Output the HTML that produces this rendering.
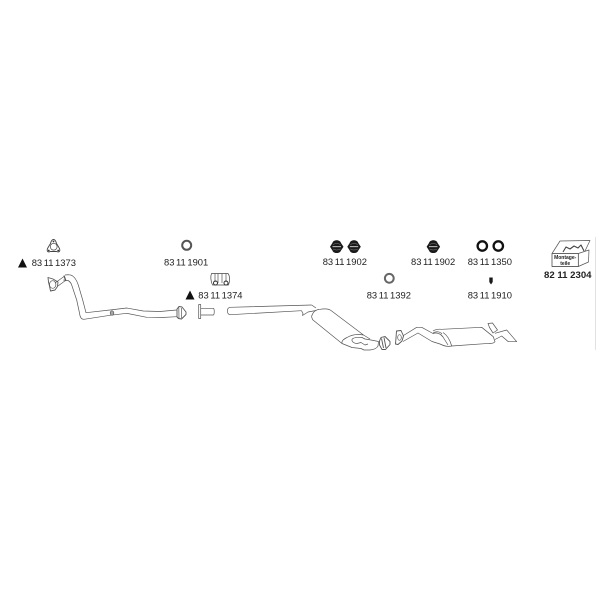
<!DOCTYPE html>
<html><head><meta charset="utf-8"><style>html,body{margin:0;padding:0;background:#fff}svg{display:block}text{font-family:"Liberation Sans",sans-serif;font-size:9.400px;word-spacing:-1px;fill:#222}</style></head><body>
<svg width="600" height="600" viewBox="0 0 600 600" xmlns="http://www.w3.org/2000/svg">
<rect width="600" height="600" fill="#fff"/>
<line x1="595.500" y1="237" x2="595.500" y2="350" stroke="#e2e2e2" stroke-width="1"/>
<g fill="#111"><path d="M18 267.500L22.500 258.500L27 267.500Z"/><path d="M185.500 299.500L190 290.500L194.500 299.500Z"/></g>
<text x="31.700" y="266">83 11 1373</text>
<text x="164" y="265.500">83 11 1901</text>
<text x="198.300" y="298.500">83 11 1374</text>
<text x="322.700" y="265">83 11 1902</text>
<text x="411" y="265">83 11 1902</text>
<text x="467.700" y="265">83 11 1350</text>
<text x="366.700" y="298.500">83 11 1392</text>
<text x="467.700" y="298.500">83 11 1910</text>
<text x="544" y="278" style="font-size:9.600px;font-weight:bold;word-spacing:0">82 11 2304</text>

<g fill="none" stroke="#555" stroke-width="0.700" stroke-linejoin="round">
<!-- icon flange -->
<path d="M53.500 239.500C55 239.500 56 241.500 56.500 243.500L59.500 248.500C60.500 251.500 59 252.500 56.500 251.500L50.500 251.500C48 252.500 46.500 251.500 47.500 248.500L50.500 243.500C51 241.500 52 239.500 53.500 239.500Z" stroke="#444" stroke-width="0.900"/>
<circle cx="53.700" cy="246.700" r="3.400" stroke="#444"/>
<circle cx="53.500" cy="241.500" r="0.900" fill="#333" stroke="none"/>
<circle cx="48.800" cy="250.500" r="0.900" fill="#333" stroke="none"/>
<circle cx="58.200" cy="250.500" r="0.900" fill="#333" stroke="none"/>
<!-- front pipe -->
<path d="M65 275C68 274.500 70 274.500 72 275.500C75 277.500 77 281 78.300 285L82.700 300L86 312.700L110 310L126.700 308L143.300 311L160 311.500L176.700 310"/>
<path d="M63.300 280L68 280.500C70 281.500 71 283 71.700 285L76.700 300L79.500 313C80 317.500 81.500 319.500 84 319.300L110 315.300L126.700 313.300L146.700 317.300L162 317.500L176.700 316.700"/>
<path d="M55 283L64 276.500L65.500 280.500L58 286"/>
<path d="M64 275.500L66 281" stroke-width="1.100"/>
<path d="M48 277.500L53 279L58 282L57.500 286.500L55 290L50.500 291L49.500 286L48.500 282Z" stroke-width="0.900"/>
<ellipse cx="52.700" cy="284.500" rx="3.200" ry="3.800"/>
<ellipse cx="112" cy="313" rx="1.800" ry="2.200" fill="#aaa"/>
<path d="M177 309L179 306.500L182 307L186 312L186 314.500L181.500 319L178.500 318.500L177 317Z" stroke-width="0.900"/>
<path d="M178.800 307.500L179 318M181.500 308L181.500 318"/>
<!-- bolt -->
<path d="M198.700 304.500H200.700V318.500H198.700ZM200.700 308.300H213.500C214.500 309 214.500 314 213.500 315H200.700"/>
<!-- clamp -->
<path d="M211.500 273.500L228 273.500C230 276 230 281 228.500 285L212.500 285C210.500 281 210.500 276 211.500 273.500Z" stroke="#444"/>
<path d="M215 273.500V282M218 273.500V283M222 273.500V283M226 273.500V282"/>
<circle cx="215.500" cy="283" r="2" stroke="#333" stroke-width="1"/>
<circle cx="226" cy="283" r="2" stroke="#333" stroke-width="1"/>
<!-- middle pipe -->
<path d="M311.700 305L230 307.300C226.500 308 226.500 314 230 314.700L301.500 310.700"/>
<path d="M311.700 305L316 308"/>
<path d="M301.500 310.700L303 313.500L302.500 315.500L308 312L316 310.500"/>
<!-- main muffler -->
<path d="M311.700 316C313 312 316 309.500 320 309.300C325 308.500 329 309 331 310.500L363.500 335C358 334 352 334.500 347 337.500C343 339.500 341.500 341 342 343.500L313 320C312 318.500 311.500 317.500 311.700 316Z"/>
<path d="M342 343.500L352 347.500L361 348.500L364 350L370 350C374 349.500 377 348 378 346L378.500 341.500L371 340L365 339L362 337.500C358 337 353 337.500 352 339.500C351.500 341.500 354 343.500 357 343.500L361 342.500L365 345L368 344"/>
<path d="M363.500 335L370 339"/>
<path d="M381 337.500L385 336.500L390 341.500L390 344.500L385.500 349.500L382 349.500L379.500 345L379.500 341Z" stroke-width="0.900"/>
<path d="M381.500 338.500L383.500 348M384 337.500L386 348" stroke-width="0.900"/>
<!-- rear flange and pipe -->
<path d="M396.500 331L401 330.500L403.500 336L402 341L398 344.500L395.500 344L396 338Z" stroke-width="0.900"/>
<ellipse cx="399.500" cy="337.500" rx="1.800" ry="2.800"/>
<path d="M403.500 335.500L416.700 327.300L421.700 327.300L433 333.500C437 332 441 334 443 337L448 345"/>
<path d="M403 341.500L418 333L432 341.500L440 344C444 346 448 347 451.700 346"/>
<!-- rear muffler -->
<path d="M433 331C436 329 439 329 441.700 329.300L481.700 327.300L493.300 336.700L495 341.700C494 343 492 343.500 490 343.300L451.700 346C450 340 447 335 443 332.500"/>
<path d="M433 333C436 331 440 331.500 442 334"/>
<!-- tail pipe -->
<path d="M495 333.300L506.700 330L516.700 341.700L508.300 341.700L501.700 336L495 339.500"/>
<path d="M488 323.500L492.500 323L497.500 330L493 333L489.500 327.500Z"/>
<!-- box -->
<path d="M552 253.500L578.300 253.500L578.300 266.500L552 266.500Z" stroke="#333"/>
<path d="M578.300 266.500L588.500 262L589 250L578.300 253.500"/>
<path d="M552 253.500L560 241L590 240.500L585 251"/>
<path d="M563 252L566 247L570 249L574 246L578 248L581 245L584 251" stroke="#444" stroke-width="1.100"/>
</g>
<text x="565.200" y="259" text-anchor="middle" style="font-size:5px;font-weight:bold;word-spacing:0">Montage-</text>
<text x="565.200" y="265" text-anchor="middle" style="font-size:5px;font-weight:bold;word-spacing:0">teile</text>

<!-- rings and mounts -->
<g fill="none">
<circle cx="186.700" cy="245.300" r="4.500" stroke="#555" stroke-width="2"/>
<circle cx="389.300" cy="278.300" r="4.400" stroke="#666" stroke-width="2"/>
<circle cx="482.300" cy="246" r="4.700" stroke="#111" stroke-width="2.300"/>
<circle cx="498.300" cy="246" r="4.700" stroke="#111" stroke-width="2.300"/>
</g>
<g fill="#1a1a1a">
<path id="m" d="M336.700 240.300C339 240.300 340.500 241.500 341 243L343.500 246.700L341 250.500C340.500 252 339 253 336.700 253C334.400 253 332.900 252 332.400 250.500L330 246.700L332.400 243C332.900 241.500 334.400 240.300 336.700 240.300Z"/>
<path d="M354 240.300C356.300 240.300 357.800 241.500 358.300 243L360.800 246.700L358.300 250.500C357.800 252 356.300 253 354 253C351.700 253 350.200 252 349.700 250.500L347.300 246.700L349.700 243C350.200 241.500 351.700 240.300 354 240.300Z"/>
<path d="M433.300 240.300C435.600 240.300 437.100 241.500 437.600 243L440.100 246.700L437.600 250.500C437.100 252 435.600 253 433.300 253C431 253 429.500 252 429 250.500L426.600 246.700L429 243C429.500 241.500 431 240.300 433.300 240.300Z"/>
<path d="M489.300 277.500H492.700V282L491 284.500L489.300 282Z"/>
</g>
<g stroke="#ddd" stroke-width="0.900" fill="none">
<path d="M332.500 246.700H341M349.800 246.700H358.200M429 246.700H437.500"/>
<path d="M333 244.500Q336.700 242.500 340.500 244.500M333 249Q336.700 251 340.500 249M350.300 244.500Q354 242.500 357.800 244.500M350.300 249Q354 251 357.800 249M429.600 244.500Q433.300 242.500 437 244.500M429.600 249Q433.300 251 437 249" stroke="#888" stroke-width="0.500"/>
</g>
</svg>
</body></html>
